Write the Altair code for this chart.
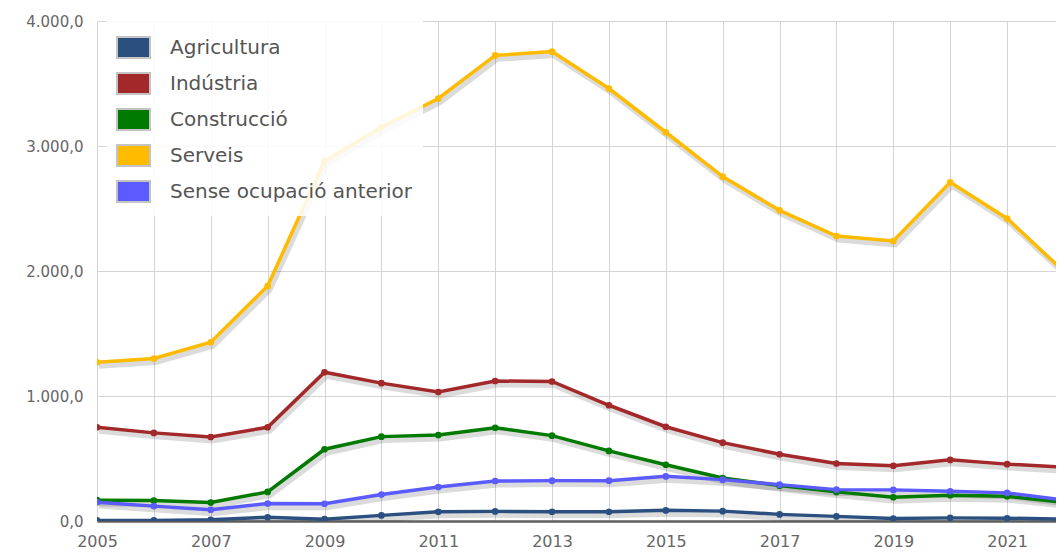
import altair as alt
import pandas as pd

years = list(range(2005, 2023))
series_names = ["Agricultura", "Indústria", "Construcció", "Serveis", "Sense ocupació anterior"]
agricultura = [5, 5, 10, 30, 15, 45, 74, 77, 74, 74, 85, 79, 53, 37, 20, 25, 22, 16]
industria = [750, 705, 672, 750, 1190, 1103, 1032, 1120, 1116, 926, 754, 627, 534, 460, 442, 489, 455, 430]
construccio = [167, 164, 148, 233, 574, 675, 688, 746, 683, 561, 450, 344, 283, 233, 190, 206, 198, 150]
serveis = [1270, 1300, 1430, 1880, 2880, 3150, 3380, 3725, 3755, 3460, 3110, 2755, 2485, 2280, 2240, 2710, 2420, 1995]
sense = [151, 119, 90, 140, 138, 212, 272, 320, 323, 323, 357, 331, 291, 251, 249, 238, 225, 167]
colors = ["#2B5080", "#A3282A", "#007A00", "#FFBB00", "#5B5BFF"]
y_ticks = [0, 1000, 2000, 3000, 4000]

values_by_series = [agricultura, industria, construccio, serveis, sense]
rows = []
for i, (name, vals) in enumerate(zip(series_names, values_by_series)):
    for yr, v in zip(years, vals):
        rows.append({"Any": yr, "Sector": name, "Serie": name, "Valor": v})
df = pd.DataFrame(rows)

x_enc = alt.X(
    "Any:Q",
    scale=alt.Scale(domain=[2005, 2021.86], nice=False, zero=False),
    axis=alt.Axis(
        values=years[:-1], title=None, ticks=False, grid=True,
        labelExpr="datum.value % 2 == 1 ? toString(datum.value) : ''",
        labelFontSize=16, labelColor="#666666", labelFont="DejaVu Sans",
        labelPadding=12, domainColor="#5e5e5e", domainWidth=2.5,
        gridColor="#d4d4d4", gridWidth=1, minExtent=24, maxExtent=24,
        labelFlush=False,
    ),
)
y_enc = alt.Y(
    "Valor:Q",
    scale=alt.Scale(domain=[0, 4000], nice=False),
    axis=alt.Axis(
        values=y_ticks, title=None, ticks=False, domain=False,
        labelExpr="replace(replace(replace(format(datum.value, ',.1f'), ',', '#'), '.', ','), '#', '.')",
        labelFontSize=15, labelColor="#666666", labelFont="DejaVu Sans",
        labelPadding=14, gridColor="#d4d4d4", gridWidth=1,
        minExtent=89, maxExtent=89,
    ),
)

legend = alt.Legend(
    title=None, orient="none", legendX=9, legendY=-1,
    fillColor="rgba(255,255,255,0.85)", padding=10,
    symbolType="M-1,-0.636H1V0.636H-1Z", symbolSize=1089,
    symbolStrokeWidth=2, symbolStrokeColor="#c4c4c4", symbolOpacity=1,
    labelFontSize=20, labelColor="#555555", labelFont="DejaVu Sans",
    labelOffset=19, rowPadding=4, labelLimit=600,
    labelExpr="datum.label + '                 '",
)

base = alt.Chart(df)

shadow = base.mark_line(
    color="#000000", opacity=0.14, strokeWidth=6, xOffset=2, yOffset=3.5, clip=True
).encode(x=x_enc, y=y_enc, detail="Serie:N", order="Any:Q")

lines = base.mark_line(strokeWidth=3.5, clip=True).encode(
    x=x_enc, y=y_enc,
    stroke=alt.Stroke("Serie:N", scale=alt.Scale(domain=series_names, range=colors), legend=None),
    order="Any:Q",
)

points = base.mark_point(filled=True, size=45, opacity=1, clip=True).encode(
    x=x_enc, y=y_enc,
    fill=alt.Fill("Sector:N", scale=alt.Scale(domain=series_names, range=colors), legend=legend),
)

chart = (
    alt.layer(shadow, lines, points)
    .resolve_scale(fill="independent", stroke="independent")
    .resolve_legend(fill="independent", stroke="independent")
    .properties(width=959, height=500, padding={"left": 0, "top": 6, "right": 0, "bottom": 0})
    .configure_view(stroke=None)
)

chart.save("out.html", embed_options={"renderer": "svg", "actions": False})
